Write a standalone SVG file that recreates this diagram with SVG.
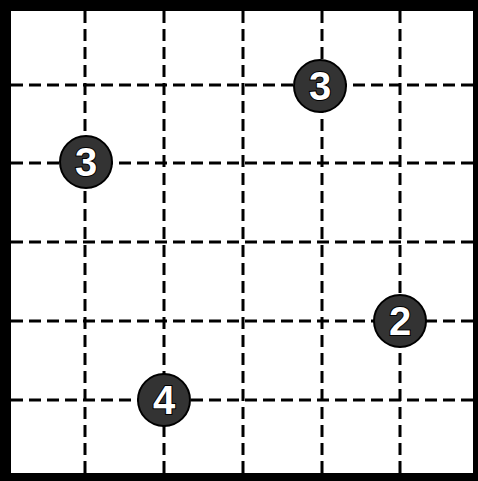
<svg xmlns="http://www.w3.org/2000/svg" width="478" height="481" viewBox="0 0 478 481">
<style>
.g{stroke:#000;stroke-width:3;stroke-dasharray:12 6;fill:none}
.st circle{fill:#333;stroke:#000;stroke-width:2}
.st text{font-family:"Liberation Sans",Arial,sans-serif;font-weight:bold;font-size:40px;fill:#fff;stroke:#000;stroke-width:2;paint-order:stroke;text-anchor:middle}
</style>
<rect x="0" y="0" width="478" height="481" fill="#fff"/>
<g id="grid">
<line class="g" x1="85" y1="11" x2="85" y2="473"/>
<line class="g" x1="164" y1="11" x2="164" y2="473"/>
<line class="g" x1="243" y1="11" x2="243" y2="473"/>
<line class="g" x1="322" y1="11" x2="322" y2="473"/>
<line class="g" x1="400" y1="11" x2="400" y2="473"/>
<line class="g" x1="11" y1="85" x2="473" y2="85"/>
<line class="g" x1="11" y1="163" x2="473" y2="163"/>
<line class="g" x1="11" y1="242" x2="473" y2="242"/>
<line class="g" x1="11" y1="321" x2="473" y2="321"/>
<line class="g" x1="11" y1="400" x2="473" y2="400"/>
</g>
<path d="M0 0H478V481H0Z M11 11V473H473V11Z" fill="#000" fill-rule="evenodd"/>
<g id="s1" class="st"><circle cx="320" cy="86" r="26"/><text x="320" y="100">3</text></g>
<g id="s2" class="st"><circle cx="86" cy="162" r="26"/><text x="86" y="176">3</text></g>
<g id="s3" class="st"><circle cx="400" cy="321" r="26"/><text x="400" y="335">2</text></g>
<g id="s4" class="st"><circle cx="164" cy="400" r="26"/><text x="164" y="414">4</text></g>
</svg>
